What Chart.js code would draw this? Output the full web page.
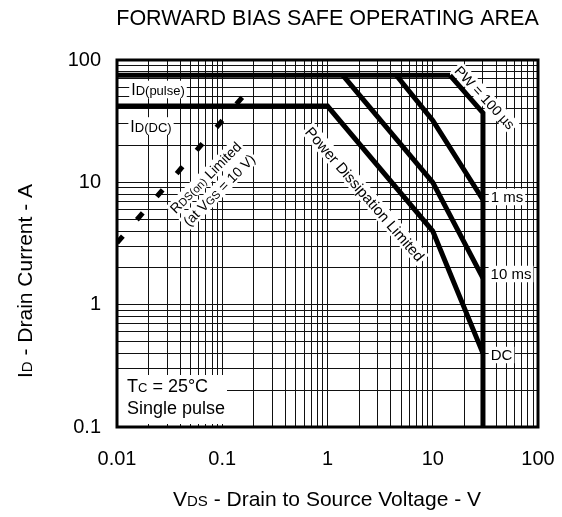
<!DOCTYPE html>
<html>
<head>
<meta charset="utf-8">
<script src="https://cdn.jsdelivr.net/npm/chart.js@4.4.0/dist/chart.umd.min.js"></script>
<style>
    body { margin: 0; background: #fff; }
    #wrap { width: 562px; height: 517px; }
</style>
</head>
<body>
<div id="wrap"><canvas id="soaChart" width="562" height="517"></canvas></div>
<script>
// decade ticks (labelled)
const xDecades = [0.01, 0.1, 1, 10, 100];
const yDecades = [0.1, 1, 10, 100];

// SOA curves: drain-source voltage (V) / drain current (A)
const pulseV = [0.01, 14.6];
const pulseI = [75, 75];
const pw100V = [14.6, 30, 30];
const pw100I = [75, 37, 0.1];
const ms1V = [4.5, 10, 30];
const ms1I = [75, 32, 7.2];
const ms10V = [1.4, 10, 30];
const ms10I = [75, 10, 1.65];
const dcV = [0.01, 1, 10, 30];
const dcI = [42, 42, 4, 0.4];
const rdsV = [0.01, 0.2];
const rdsI = [3.2, 64];

const FONT = 'Arial, "Liberation Sans", sans-serif';

function pts(xs, ys) {
    return xs.map((x, i) => ({ x: x, y: ys[i] }));
}

// 1..9 in every decade, from the decade list
function minorTicks(decades) {
    const t = [];
    for (let d = 0; d < decades.length - 1; d++) {
        for (let m = 1; m < 10; m++) {
            t.push({ value: +(m * decades[d]).toPrecision(3) });
        }
    }
    t.push({ value: decades[decades.length - 1] });
    return t;
}

// text made of pieces in different sizes (for subscripts), centred on cx,cy
function drawRich(ctx, parts, cx, cy, angle, bg, align) {
    ctx.save();
    ctx.translate(cx, cy);
    ctx.rotate(angle * Math.PI / 180);
    const widths = parts.map(p => {
        ctx.font = p[1] + 'px ' + FONT;
        return ctx.measureText(p[0]).width;
    });
    const w = widths.reduce((a, b) => a + b, 0);
    const big = Math.max(...parts.map(p => p[1]));
    let x = align === 'left' ? 0 : -w / 2;
    if (bg) {
        ctx.fillStyle = '#fff';
        ctx.fillRect(x - 2, -big * 0.55, w + 4, big * 1.1);
    }
    ctx.fillStyle = '#000';
    ctx.textAlign = 'left';
    ctx.textBaseline = 'alphabetic';
    parts.forEach((p, i) => {
        ctx.font = p[1] + 'px ' + FONT;
        ctx.fillText(p[0], x, big * 0.36);
        x += widths[i];
    });
    ctx.restore();
}

const annotations = {
    id: 'annotations',
    afterDatasetsDraw(chart) {
        const ctx = chart.ctx;
        const a = chart.chartArea;

        drawRich(ctx, [['I', 16], ['D(pulse)', 13]], 158, 89.5, 0, true);
        drawRich(ctx, [['I', 16], ['D(DC)', 13]], 151, 126, 0, true);
        drawRich(ctx, [['PW = 100 µs', 14]], 485, 97.5, 47, true);
        drawRich(ctx, [['1 ms', 15]], 507, 197, 0, true);
        drawRich(ctx, [['10 ms', 15]], 511, 274, 0, true);
        drawRich(ctx, [['DC', 15]], 501.5, 355, 0, true);
        drawRich(ctx, [['Power Dissipation Limited', 15]], 365, 194, 49, true);
        drawRich(ctx, [['R', 14], ['DS(on)', 11], [' Limited', 14]], 205.5, 177.5, -45, true);
        drawRich(ctx, [['(at V', 14], ['GS', 11], [' = 10 V)', 14]], 219, 190, -45, true);

        // Tc box
        ctx.fillStyle = '#fff';
        ctx.fillRect(a.left, 375, 110, a.bottom - 378);
        drawRich(ctx, [['T', 18], ['C', 13], [' = 25°C', 18]], 127, 386, 0, false, 'left');
        drawRich(ctx, [['Single pulse', 18]], 127, 408, 0, false, 'left');

        // frame
        ctx.save();
        ctx.strokeStyle = '#000';
        ctx.lineWidth = 3;
        ctx.strokeRect(a.left, a.top, a.right - a.left, a.bottom - a.top);
        ctx.restore();
    },
    afterDraw(chart) {
        const ctx = chart.ctx;
        ctx.save();
        ctx.fillStyle = '#000';
        ctx.font = '21.5px ' + FONT;
        ctx.textAlign = 'center';
        ctx.textBaseline = 'middle';
        ctx.fillText('FORWARD BIAS SAFE OPERATING AREA', 327.5, 19);
        ctx.restore();
        drawRich(ctx, [['I', 21], ['D', 15], [' - Drain Current - A', 21]], 24, 281, -90, false);
        drawRich(ctx, [['V', 21], ['DS', 15], [' - Drain to Source Voltage - V', 21]], 327, 498, 0, false);
    }
};

function line(data, dash) {
    return {
        data: data,
        showLine: true,
        borderColor: '#000',
        backgroundColor: '#000',
        borderWidth: 5,
        borderDash: dash || [],
        borderCapStyle: 'butt',
        borderJoinStyle: 'miter',
        pointRadius: 0,
        tension: 0
    };
}

const ctx = document.getElementById('soaChart').getContext('2d');
new Chart(ctx, {
    type: 'scatter',
    data: {
        datasets: [
            line(pts(pulseV, pulseI)),
            line(pts(pw100V, pw100I)),
            line(pts(ms1V, ms1I)),
            line(pts(ms10V, ms10I)),
            line(pts(dcV, dcI)),
            line(pts(rdsV, rdsI), [9, 21.5])
        ]
    },
    options: {
        responsive: false,
        devicePixelRatio: 1,
        animation: false,
        layout: { padding: { top: 60, right: 24, bottom: 0, left: 0 } },
        plugins: {
            legend: { display: false },
            tooltip: { enabled: false }
        },
        scales: {
            x: {
                type: 'logarithmic',
                min: 0.01,
                max: 100,
                afterBuildTicks: s => { s.ticks = minorTicks(xDecades); },
                afterFit: s => {
                    s.height = 90;
                    s.paddingLeft = 0;
                    s.paddingRight = 0;
                },
                grid: { color: '#111', lineWidth: 1, drawTicks: false },
                border: { display: false },
                ticks: {
                    autoSkip: false,
                    maxRotation: 0,
                    padding: 20,
                    color: '#000',
                    font: { family: FONT, size: 20 },
                    callback: v => xDecades.includes(v) ? String(v) : ''
                }
            },
            y: {
                type: 'logarithmic',
                min: 0.1,
                max: 100,
                afterBuildTicks: s => { s.ticks = minorTicks(yDecades); },
                afterFit: s => {
                    s.width = 117;
                    s.paddingTop = 0;
                    s.paddingBottom = 0;
                },
                grid: { color: '#111', lineWidth: 1, drawTicks: false },
                border: { display: false },
                ticks: {
                    autoSkip: false,
                    padding: 16,
                    color: '#000',
                    font: { family: FONT, size: 20 },
                    callback: v => yDecades.includes(v) ? String(v) : ''
                }
            }
        }
    },
    plugins: [annotations]
});
</script>
</body>
</html>
